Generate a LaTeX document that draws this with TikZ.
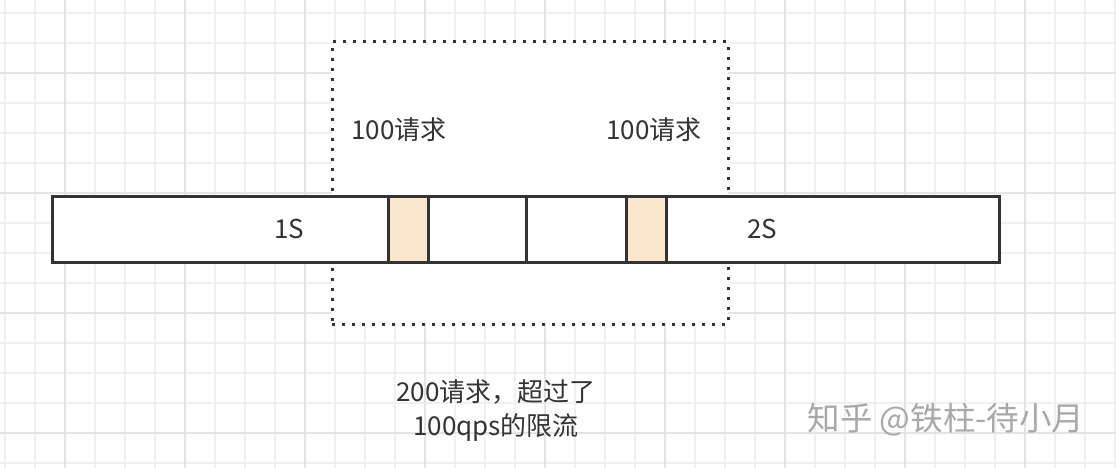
\documentclass[tikz,border=0pt]{standalone}
\usepackage{fontspec}
\setmainfont{Noto Sans CJK SC}
\definecolor{ink}{HTML}{333333}
\definecolor{peach}{HTML}{FDE6CE}
\definecolor{gridminor}{HTML}{F0F0F0}
\definecolor{gridmajor}{HTML}{E4E4E4}
\definecolor{wm}{HTML}{A8A8A8}
\tikzset{
  gridline/.style={gridminor, line width=1.5pt},
  gridmaj/.style={gridmajor, line width=1.8pt},
  window/.style={draw=ink, fill=white, line width=3pt, dash pattern=on 3pt off 7pt, rectangle, inner sep=0pt},
  seg/.style={draw=ink, fill=white, line width=3pt, rectangle, minimum height=66pt, inner sep=0pt, text=ink, font=\fontsize{26}{30}\selectfont},
  peak/.style={seg, fill=peach, minimum width=40pt},
  lbl/.style={text=ink, font=\fontsize{26}{30}\selectfont, inner sep=0pt},
  wmtext/.style={text=wm, font=\fontsize{32.5}{38}\selectfont, inner sep=0pt}
}
\begin{document}
\begin{tikzpicture}[x=1pt,y=-1pt]
\useasboundingbox (0,0) rectangle (1116,468);
\fill[white] (0,0) rectangle (1116,468);
% grid
\foreach \x in {5,35,...,1115} \draw[gridline] (\x,0) -- (\x,468);
\foreach \y in {13,43,...,463} \draw[gridline] (0,\y) -- (1116,\y);
\foreach \x in {65,185,...,1025} \draw[gridmaj] (\x,0) -- (\x,468);
\foreach \y in {73,193,313,433} \draw[gridmaj] (0,\y) -- (1116,\y);
% one-second window
\node[window, minimum width=396pt, minimum height=282pt] (win) at (530,183) {};
\node[lbl] (reqA) at (399,130) {100请求};
\node[lbl] (reqB) at (654,130) {100请求};
% time bar
\node[seg, minimum width=474pt] (s1) at (289,229) {1S};
\node[seg, minimum width=473pt] (s2) at (762.5,229) {2S};
\node[peak] (pA) at (408,229) {};
\node[peak] (pB) at (646,229) {};
% caption
\node[lbl, align=center, font=\fontsize{26}{34}\selectfont] (cap) at (496,411) {200请求，超过了\\100qps的限流};
\node[wmtext] (wmark) at (946,420) {知乎 @铁柱-待小月};
\end{tikzpicture}
\end{document}
